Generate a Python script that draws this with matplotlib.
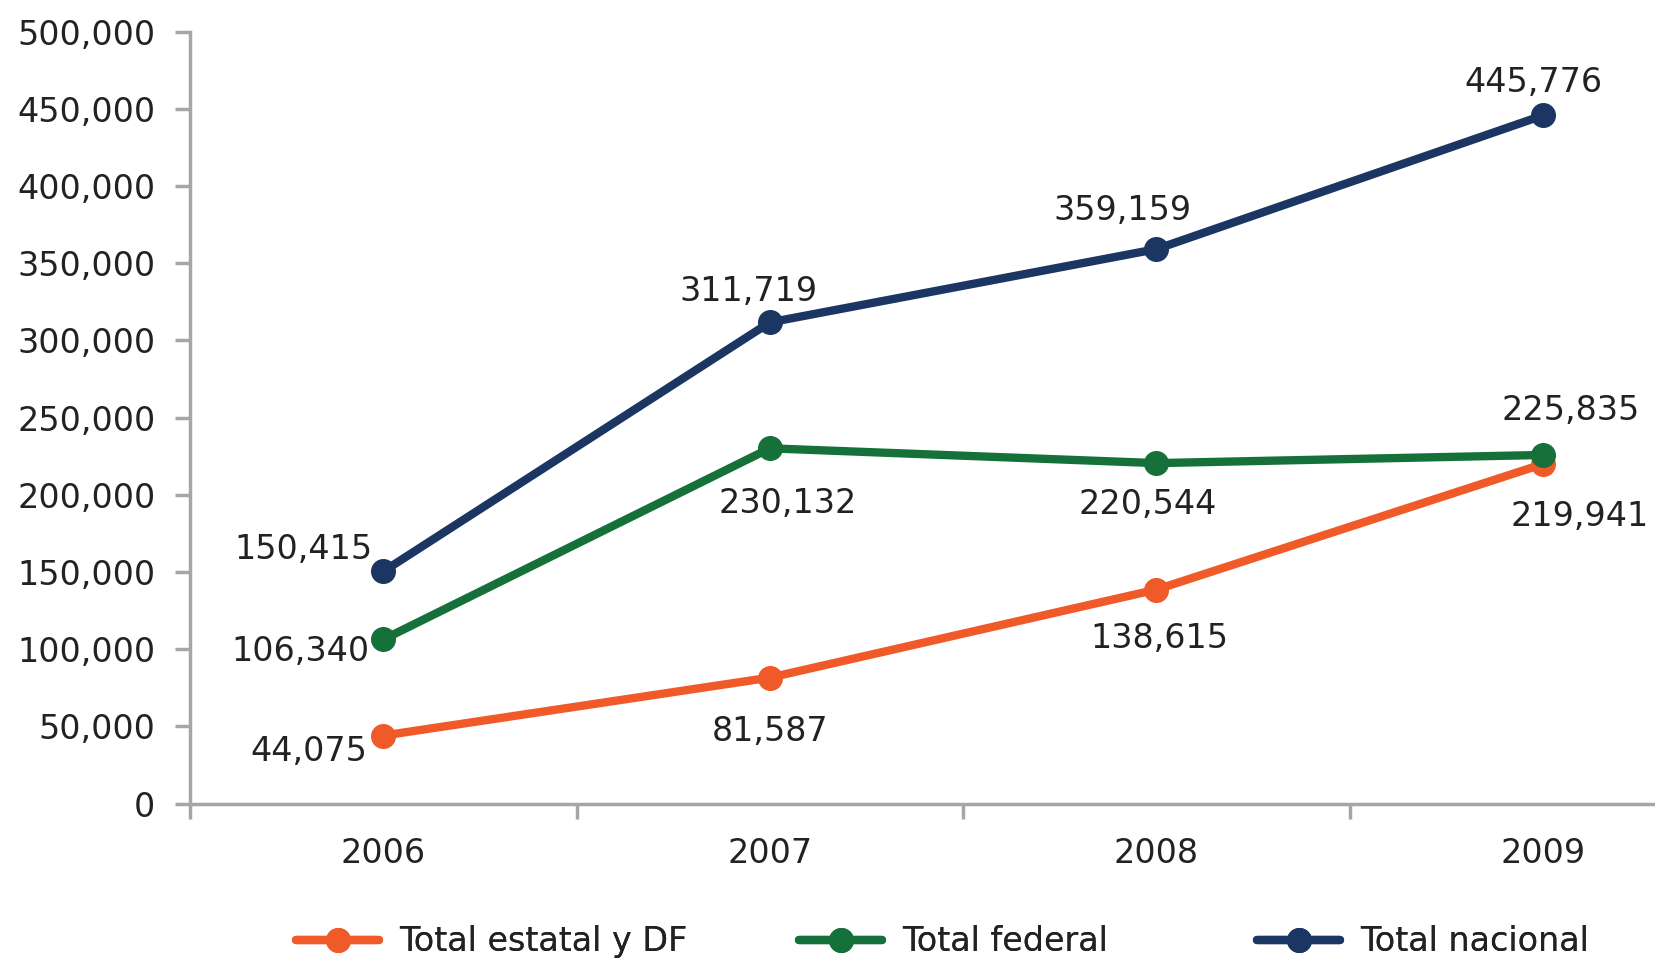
import matplotlib
matplotlib.use('Agg')
import matplotlib.pyplot as plt
from matplotlib.ticker import FuncFormatter, FixedLocator

plt.rcParams['font.family'] = ['DejaVu Sans']

years = ['2006', '2007', '2008', '2009']
estatal = [44075, 81587, 138615, 219941]
federal = [106340, 230132, 220544, 225835]
nacional = [150415, 311719, 359159, 445776]

# label offsets in pixels (dx, dy, ha)
off_estatal = [(-16, -16, 'right'), (0, -54, 'center'), (3, -49, 'center'), (37, -52, 'center')]
off_federal = [(-14, -12, 'right'), (18, -55, 'center'), (-9, -41, 'center'), (28, 44, 'center')]
off_nacional = [(-11, 22, 'right'), (-21, 31, 'center'), (-34, 39, 'center'), (-9, 33, 'center')]

c_est = '#F05A28'
c_fed = '#16703A'
c_nac = '#1B3663'
txt = '#222222'
gray = '#A6A6A6'
fs = 24

fig = plt.figure(figsize=(16.56, 9.61), dpi=100)
ax = fig.add_axes([0.1148, 0.1638, 0.9336, 0.8032])

x = list(range(len(years)))
series = [(estatal, c_est, 'Total estatal y DF', off_estatal),
          (federal, c_fed, 'Total federal', off_federal),
          (nacional, c_nac, 'Total nacional', off_nacional)]
handles = []
for vals, col, lab, offs in series:
    h, = ax.plot(x, vals, color=col, lw=6, marker='o', ms=17, label=lab,
                 solid_capstyle='round', clip_on=False)
    handles.append(h)
    for i, v in enumerate(vals):
        dx, dy, ha = offs[i]
        ax.annotate(f'{v:,}', (i, v), xytext=(dx, dy), textcoords='offset pixels',
                    ha=ha, va='center', fontsize=fs, color=txt)

ax.set_xlim(-0.5, 3.5)
ax.set_ylim(0, 500000)
ax.set_yticks(range(0, 500001, 50000))
ax.yaxis.set_major_formatter(FuncFormatter(lambda v, p: f'{int(v):,}'))
ax.set_xticks(x)
ax.set_xticklabels(years)
ax.xaxis.set_minor_locator(FixedLocator([-0.5, 0.5, 1.5, 2.5, 3.5]))

for s in ['top', 'right']:
    ax.spines[s].set_visible(False)
for s in ['left', 'bottom']:
    ax.spines[s].set_color(gray)
    ax.spines[s].set_linewidth(2.5)

ax.tick_params(axis='y', length=11, width=2.5, color=gray, pad=14,
               labelsize=fs, labelcolor=txt)
ax.tick_params(axis='x', which='major', length=0, pad=24, labelsize=fs, labelcolor=txt)
ax.tick_params(axis='x', which='minor', length=11, width=2.5, color=gray)

# one legend per entry, placed where the reference puts them
leg_x = [296 / 1656, 799 / 1656, 1257 / 1656]
for h, lx in zip(handles, leg_x):
    lg = fig.legend(handles=[h], loc='center left', bbox_to_anchor=(lx, 0.0198),
                    frameon=False, fontsize=fs, handlelength=2.5, handletextpad=0.6,
                    borderpad=0, borderaxespad=0, labelcolor=txt)
    fig.add_artist(lg)

fig.savefig('out.png', dpi=100)
